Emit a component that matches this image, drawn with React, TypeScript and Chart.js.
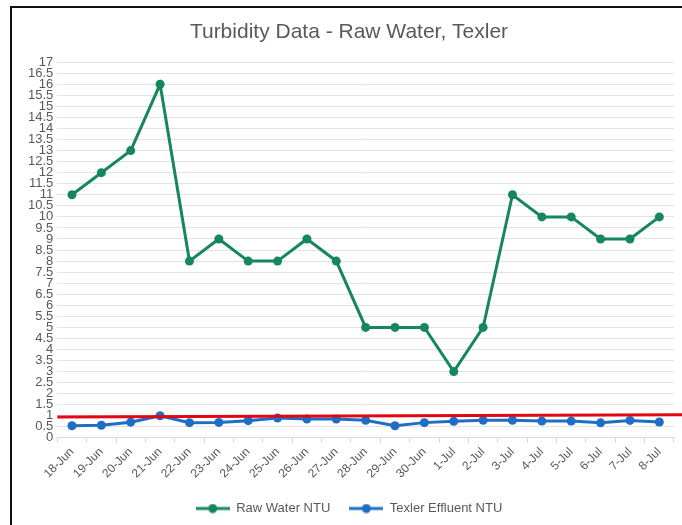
import React, { useEffect, useRef } from "react";
import { Chart, registerables } from "chart.js";

Chart.register(...registerables);

const categories = [
  "18-Jun", "19-Jun", "20-Jun", "21-Jun", "22-Jun", "23-Jun", "24-Jun",
  "25-Jun", "26-Jun", "27-Jun", "28-Jun", "29-Jun", "30-Jun", "1-Jul",
  "2-Jul", "3-Jul", "4-Jul", "5-Jul", "6-Jul", "7-Jul", "8-Jul",
];

const rawWater = [11, 12, 13, 16, 8, 9, 8, 8, 9, 8, 5, 5, 5, 3, 5, 11, 10, 10, 9, 9, 10];

const effluent = [
  0.55, 0.57, 0.71, 1.0, 0.69, 0.7, 0.78, 0.9, 0.85, 0.85, 0.8,
  0.55, 0.69, 0.75, 0.8, 0.8, 0.76, 0.76, 0.68, 0.79, 0.72,
];

// limit line (start value at left edge, end value at right edge)
const limitLine = [0.95, 1.05];

const yMin = 0;
const yMax = 17;
const yStep = 0.5;

const GREEN = "#16875a";
const BLUE = "#1f6ec6";
const RED = "#e30613";
const FONT = "Liberation Sans, Arial, sans-serif";

function legendIcon(color: string): HTMLCanvasElement {
  const c = document.createElement("canvas");
  c.width = 34;
  c.height = 10;
  const ctx = c.getContext("2d")!;
  ctx.strokeStyle = color;
  ctx.lineWidth = 3;
  ctx.beginPath();
  ctx.moveTo(0, 5);
  ctx.lineTo(34, 5);
  ctx.stroke();
  ctx.fillStyle = color;
  ctx.beginPath();
  ctx.arc(17, 5, 4.5, 0, Math.PI * 2);
  ctx.fill();
  return c;
}

const limitPlugin = {
  id: "limitLine",
  afterDatasetsDraw(chart: any) {
    const { ctx, chartArea, scales } = chart;
    const y = scales.y;
    ctx.save();
    ctx.strokeStyle = RED;
    ctx.lineWidth = 3;
    ctx.beginPath();
    ctx.moveTo(chartArea.left, y.getPixelForValue(limitLine[0]));
    ctx.lineTo(chartArea.right + 8, y.getPixelForValue(limitLine[1]));
    ctx.stroke();
    ctx.restore();
  },
};

export default function App() {
  const ref = useRef<HTMLCanvasElement>(null);

  useEffect(() => {
    const canvas = ref.current!;
    const chart = new Chart(canvas, {
      type: "line",
      data: {
        labels: categories,
        datasets: [
          {
            label: "Raw Water NTU",
            data: rawWater,
            borderColor: GREEN,
            backgroundColor: GREEN,
            borderWidth: 3,
            pointRadius: 4.5,
            pointBackgroundColor: GREEN,
            pointBorderWidth: 0,
            tension: 0,
          },
          {
            label: "Texler Effluent NTU",
            data: effluent,
            borderColor: BLUE,
            backgroundColor: BLUE,
            borderWidth: 3,
            pointRadius: 4.5,
            pointBackgroundColor: BLUE,
            pointBorderWidth: 0,
            tension: 0,
          },
        ],
      },
      options: {
        animation: false,
        responsive: false,
        maintainAspectRatio: false,
        layout: { padding: { left: 12, right: 8, top: 4, bottom: 0 } },
        plugins: {
          title: {
            display: true,
            text: "Turbidity Data - Raw Water, Texler",
            color: "#595959",
            font: { family: FONT, size: 21, weight: "normal" },
            padding: { top: 7, bottom: 17 },
          },
          legend: {
            position: "bottom",
            labels: {
              usePointStyle: true,
              pointStyleWidth: 34,
              boxHeight: 10,
              color: "#595959",
              font: { family: FONT, size: 13 },
              padding: 19,
              generateLabels: (chart: any) =>
                chart.data.datasets.map((ds: any, i: number) => ({
                  text: ds.label,
                  pointStyle: legendIcon(ds.borderColor),
                  fillStyle: ds.borderColor,
                  strokeStyle: ds.borderColor,
                  lineWidth: 0,
                  hidden: false,
                  datasetIndex: i,
                  fontColor: "#595959",
                })),
            },
          },
          tooltip: { enabled: false },
        },
        scales: {
          x: {
            offset: true,
            grid: {
              display: true,
              drawOnChartArea: false,
              drawTicks: true,
              tickLength: 5,
              color: "#d9d9d9",
              offset: true,
            },
            border: { display: true, color: "#d9d9d9" },
            ticks: {
              color: "#595959",
              font: { family: FONT, size: 12 },
              minRotation: 45,
              maxRotation: 45,
              autoSkip: false,
              padding: 2,
            },
          },
          y: {
            min: yMin,
            max: yMax,
            grid: { color: "#e3e3e3", drawTicks: false },
            border: { display: false },
            ticks: {
              stepSize: yStep,
              autoSkip: false,
              color: "#595959",
              font: { family: FONT, size: 13 },
              padding: 4,
              callback: (v: any) => String(Number(v)),
            },
          },
        },
      },
      plugins: [limitPlugin],
    });
    return () => chart.destroy();
  }, []);

  return (
    <div
      style={{
        position: "fixed",
        left: 0,
        top: 0,
        width: 682,
        height: 525,
        background: "#fff",
        overflow: "hidden",
      }}
    >
      <div
        style={{
          position: "absolute",
          left: 10,
          top: 6,
          width: 672,
          height: 519,
          borderLeft: "2px solid #111",
          borderTop: "2px solid #111",
          boxSizing: "border-box",
        }}
      />
      <canvas
        ref={ref}
        width={670}
        height={516}
        style={{ position: "absolute", left: 12, top: 9, width: 670, height: 516 }}
      />
    </div>
  );
}
